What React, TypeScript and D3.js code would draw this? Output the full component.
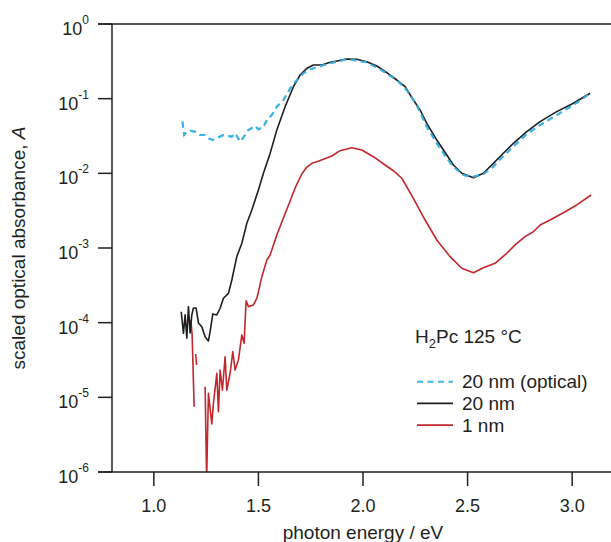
import React from "react";
import * as d3 from "d3";

// ---- data ----
const energyOptical = [1.137, 1.145, 1.158, 1.174, 1.197, 1.221, 1.245, 1.261, 1.282, 1.309, 1.333, 1.373, 1.389, 1.413, 1.436, 1.452, 1.484, 1.5, 1.524, 1.54, 1.564, 1.588, 1.62, 1.652, 1.684, 1.715, 1.747, 1.787, 1.843, 1.923, 2.018, 2.082, 2.162, 2.209, 2.257, 2.305, 2.353, 2.401, 2.432, 2.48, 2.528, 2.576, 2.623, 2.671, 2.719, 2.783, 2.847, 2.926, 3.006, 3.086];
const absOptical = [0.0492, 0.0326, 0.0361, 0.0372, 0.0361, 0.0326, 0.0326, 0.0294, 0.028, 0.0304, 0.0326, 0.031, 0.0344, 0.0265, 0.0326, 0.038, 0.0431, 0.0389, 0.0414, 0.0518, 0.0604, 0.078, 0.096, 0.1377, 0.1778, 0.2187, 0.247, 0.268, 0.298, 0.34, 0.307, 0.247, 0.178, 0.1306, 0.0822, 0.0421, 0.0252, 0.0159, 0.01227, 0.0095, 0.009, 0.0098, 0.01227, 0.0171, 0.0228, 0.0336, 0.0444, 0.0604, 0.0822, 0.118];

const energy20 = [1.131, 1.1415, 1.1496, 1.1577, 1.1654, 1.1735, 1.1816, 1.1893, 1.2022, 1.2132, 1.2294, 1.2452, 1.261, 1.2691, 1.282, 1.3011, 1.3169, 1.3327, 1.3566, 1.3729, 1.3967, 1.4207, 1.4446, 1.4685, 1.5, 1.5239, 1.5559, 1.588, 1.6276, 1.6673, 1.6993, 1.7314, 1.7629, 1.8031, 1.8427, 1.8824, 1.9226, 1.9704, 2.0182, 2.066, 2.1138, 2.1616, 2.2013, 2.2409, 2.2729, 2.305, 2.3528, 2.4006, 2.4321, 2.4723, 2.5277, 2.5755, 2.6233, 2.6711, 2.7189, 2.783, 2.8466, 2.9264, 3.0057, 3.0856];
const abs20 = [1.4e-4, 7.2e-5, 1.27e-4, 6.2e-5, 1.64e-4, 7.3e-5, 1.27e-4, 1.57e-4, 1.57e-4, 9.9e-5, 8.8e-5, 6.5e-5, 5.7e-5, 7.6e-5, 1.31e-4, 1.27e-4, 1.56e-4, 2.12e-4, 2.47e-4, 3.73e-4, 7.66e-4, 1.16e-3, 2.14e-3, 3.23e-3, 5.98e-3, 1.0e-2, 1.85e-2, 3.8e-2, 7.8e-2, 0.1446, 0.2075, 0.255, 0.2825, 0.2825, 0.307, 0.3225, 0.34, 0.3367, 0.3127, 0.2739, 0.2228, 0.1778, 0.1447, 0.096, 0.0705, 0.0468, 0.0279, 0.01758, 0.01292, 0.01002, 0.00874, 0.01002, 0.01362, 0.01855, 0.02523, 0.03612, 0.0492, 0.067, 0.0867, 0.118];

const energy1 = [1.1769, 1.1831, 1.1927, 1.195, 1.1998, 1.2046, 1.22, 1.2452, 1.2524, 1.261, 1.2772, 1.2849, 1.3011, 1.3088, 1.3169, 1.3279, 1.3408, 1.3489, 1.3647, 1.3776, 1.3886, 1.4044, 1.4207, 1.4316, 1.4412, 1.4522, 1.4761, 1.4924, 1.5, 1.5163, 1.5402, 1.5559, 1.588, 1.6195, 1.6515, 1.6754, 1.7075, 1.728, 1.7553, 1.7792, 1.8107, 1.8509, 1.8905, 1.9465, 1.9943, 2.0497, 2.1056, 2.1453, 2.1855, 2.2409, 2.2969, 2.3528, 2.4164, 2.4723, 2.5277, 2.5755, 2.6315, 2.6874, 2.7271, 2.7749, 2.8145, 2.8466, 2.8944, 2.9579, 3.022, 3.0904];
const abs1 = [1.09e-4, 6.8e-5, 7.5e-6, null, 3.81e-5, 2.71e-5, null, 1.39e-5, 7.8e-7, 1.13e-5, 4.4e-6, 8.3e-6, 2.1e-5, 6.4e-6, 2.32e-5, 1.25e-5, 3.5e-5, 1.25e-5, 2.1e-5, 4.09e-5, 2.32e-5, 3.16e-5, 6.84e-5, 5.3e-5, 1.97e-4, 1.64e-4, 1.73e-4, 2.12e-4, 2.58e-4, 4.13e-4, 6.91e-4, 8.05e-4, 1.49e-3, 2.52e-3, 4.26e-3, 6.37e-3, 9.8e-3, 0.0118, 0.01362, 0.01432, 0.01543, 0.01707, 0.02011, 0.02205, 0.02054, 0.01671, 0.01294, 0.01084, 0.00859, 0.00463, 0.00237, 0.00128, 7.65e-4, 5.35e-4, 4.67e-4, 5.45e-4, 6.24e-4, 8.49e-4, 1.1e-3, 1.42e-3, 1.65e-3, 2.03e-3, 2.37e-3, 2.97e-3, 3.77e-3, 5.13e-3];

const xTicks = [1.0, 1.5, 2.0, 2.5, 3.0];
const yTickExps = [0, -1, -2, -3, -4, -5, -6];
const legendLabels = ["20 nm (optical)", "20 nm", "1 nm"];

const FONT = "'Liberation Sans', Arial, Helvetica, sans-serif";
const AXIS = "#231f20";
const BLUE = "#3db5e6";
const BLACK = "#1e1e1e";
const RED = "#c1272d";

export default function App() {
  const W = 611, H = 542;
  const left = 112, top = 24, bottom = 472, right = 611;
  const x = d3.scaleLinear().domain([0.8, 3.2]).range([112, 614]);
  const y = d3.scaleLog().domain([1e-6, 1]).range([bottom, top]);

  const mk = (es: number[], as: (number | null)[]) =>
    es.map((e, i) => ({ e, a: as[i] }));
  const line = d3
    .line<{ e: number; a: number | null }>()
    .defined((d) => d.a !== null && (d.a as number) > 0)
    .x((d) => x(d.e))
    .y((d) => y(d.a as number));

  const series = [
    { data: mk(energyOptical, absOptical), color: BLUE, dash: "6,4.5", w: 2 },
    { data: mk(energy20, abs20), color: BLACK, dash: undefined, w: 1.6 },
    { data: mk(energy1, abs1), color: RED, dash: undefined, w: 1.6 },
  ];
  const drawOrder = [2, 0, 1];

  return (
    <svg
      width={W}
      height={H}
      style={{ position: "absolute", left: 0, top: 0, background: "#fff" }}
      fontFamily={FONT}
    >
      <defs>
        <clipPath id="plotClip">
          <rect x={left} y={top} width={right - left} height={bottom - top} />
        </clipPath>
      </defs>

      {/* data */}
      <g clipPath="url(#plotClip)">
        {drawOrder.map((i) => (
          <path
            key={i}
            d={line(series[i].data) || ""}
            fill="none"
            stroke={series[i].color}
            strokeWidth={series[i].w}
            strokeDasharray={series[i].dash}
            strokeLinejoin="round"
          />
        ))}
        {/* draw black over blue, but keep blue dashes visible */}
        <path
          d={line(series[0].data) || ""}
          fill="none"
          stroke={BLUE}
          strokeWidth={2}
          strokeDasharray="6,4.5"
          opacity={0.9}
        />
      </g>

      {/* axes */}
      <g stroke={AXIS} strokeWidth={1.5} fill="none">
        <line x1={left} y1={top} x2={left} y2={bottom} />
        <line x1={98} y1={top} x2={right} y2={top} />
        <line x1={98} y1={bottom} x2={right} y2={bottom} />
        {yTickExps.map((p) => (
          <line key={p} x1={98} x2={left} y1={y(Math.pow(10, p))} y2={y(Math.pow(10, p))} />
        ))}
        {xTicks.map((t) => (
          <line key={t} x1={x(t)} x2={x(t)} y1={bottom} y2={bottom + 14} />
        ))}
      </g>

      {/* y tick labels */}
      <g fill={AXIS}>
        {yTickExps.map((p) => (
          <text key={p} x={89} y={y(Math.pow(10, p)) + 11} textAnchor="end" fontSize={18}>
            10
            <tspan dy={-11} fontSize={12}>
              {String(p)}
            </tspan>
          </text>
        ))}
        {xTicks.map((t) => (
          <text key={t} x={x(t)} y={512} textAnchor="middle" fontSize={18}>
            {t.toFixed(1)}
          </text>
        ))}
        <text x={x(2.0)} y={539} textAnchor="middle" fontSize={19}>
          photon energy / eV
        </text>
        <text
          transform={`translate(25, ${(top + bottom) / 2}) rotate(-90)`}
          textAnchor="middle"
          fontSize={19}
        >
          scaled optical absorbance, <tspan fontStyle="italic">A</tspan>
        </text>
      </g>

      {/* legend */}
      <g fill={AXIS} fontSize={19}>
        <text x={415} y={343}>
          H<tspan dy={5} fontSize={13}>2</tspan>
          <tspan dy={-5}>Pc 125 °C</tspan>
        </text>
        {legendLabels.map((lab, i) => {
          const ly = 381.7 + i * 21.7;
          const s = series[i];
          return (
            <g key={lab}>
              <line
                x1={417}
                x2={453}
                y1={ly}
                y2={ly}
                stroke={s.color}
                strokeWidth={s.w}
                strokeDasharray={s.dash}
              />
              <text x={462} y={ly + 6.6}>
                {lab}
              </text>
            </g>
          );
        })}
      </g>
    </svg>
  );
}
